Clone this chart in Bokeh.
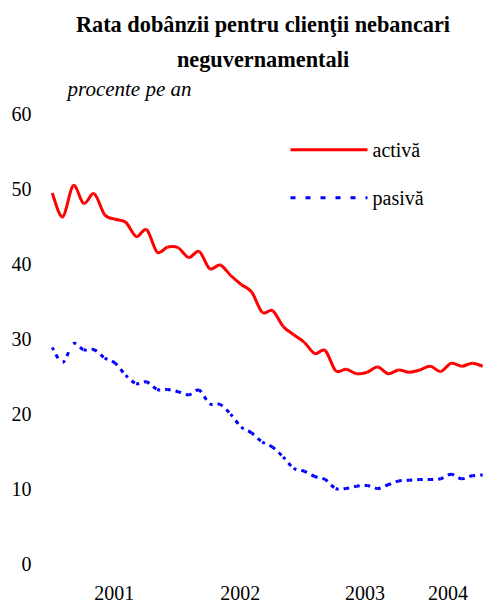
from bokeh.plotting import figure
from bokeh.models import Range1d, FixedTicker, Label
from bokeh.embed import file_html
from bokeh.resources import INLINE

# ---- data (monthly, Jan 2001 .. Jun 2004), % per year ----
months = list(range(42))
activa = [49.4, 46.2, 50.4, 48.0, 49.3, 46.5, 45.9, 45.5, 43.6, 44.5,
          41.5, 42.2, 42.1, 40.8, 41.6, 39.3, 39.8, 38.4, 37.2, 36.2,
          33.5, 33.7, 31.6, 30.5, 29.5, 28.0, 28.4, 25.7, 25.9, 25.3,
          25.5, 26.2, 25.3, 25.8, 25.5, 25.8, 26.3, 25.6, 26.7, 26.3,
          26.7, 26.3]
pasiva = [28.8, 26.8, 29.3, 28.5, 28.5, 27.4, 26.7, 25.1, 24.0, 24.2,
          23.2, 23.2, 22.9, 22.5, 23.1, 21.3, 21.2, 19.9, 18.2, 17.4,
          16.2, 15.5, 14.2, 12.7, 12.3, 11.6, 11.2, 10.0, 10.0, 10.3,
          10.4, 10.0, 10.5, 11.0, 11.1, 11.2, 11.2, 11.3, 11.9, 11.3,
          11.7, 11.8]
years = ["2001", "2002", "2003", "2004"]
year_pos = [5.9, 17.9, 29.8, 37.7]
y_ticks = [0, 10, 20, 30, 40, 50, 60]
series_names = ["activă", "pasivă"]
title_lines = ["Rata dobânzii pentru clienţii nebancari", "neguvernamentali"]
unit_text = "procente pe an"

FONT = "Liberation Serif"
W, H = 485, 604
LEFT = 33
# screen geometry of the value scale
X0_PX, DX_PX = 51.7, 10.5      # pixel of month 0, pixels per month
Y0_PX, DY_PX = 563.0, 7.5      # pixel of value 0, pixels per unit
BASE_FIX = 8.0                 # label baseline correction (px)


def xd(px):
    return (px - X0_PX) / DX_PX


def yd(py):
    return (Y0_PX - py) / DY_PX


def yb(baseline_px):
    """data y for a Label whose alphabetic baseline should land at baseline_px"""
    return yd(baseline_px - BASE_FIX)


def smooth_segments(xs, ys):
    """Catmull-Rom control points -> cubic Bezier segments (smoothed line)."""
    n = len(xs)
    out = dict(x0=[], y0=[], x1=[], y1=[], cx0=[], cy0=[], cx1=[], cy1=[])
    for i in range(n - 1):
        xa, ya = (xs[i - 1], ys[i - 1]) if i > 0 else (xs[i], ys[i])
        xz, yz = (xs[i + 2], ys[i + 2]) if i + 2 < n else (xs[i + 1], ys[i + 1])
        out["x0"].append(xs[i]); out["y0"].append(ys[i])
        out["x1"].append(xs[i + 1]); out["y1"].append(ys[i + 1])
        out["cx0"].append(xs[i] + (xs[i + 1] - xa) / 6.0)
        out["cy0"].append(ys[i] + (ys[i + 1] - ya) / 6.0)
        out["cx1"].append(xs[i + 1] - (xz - xs[i]) / 6.0)
        out["cy1"].append(ys[i + 1] - (yz - ys[i]) / 6.0)
    return out


p = figure(width=W, height=H, output_backend="svg", toolbar_location=None,
           x_range=Range1d(xd(LEFT), xd(W)), y_range=Range1d(yd(H), yd(0)),
           min_border_left=LEFT, min_border_right=0, min_border_top=0,
           min_border_bottom=0)
p.outline_line_color = None
p.xgrid.visible = False
p.ygrid.visible = False
p.background_fill_color = "white"
p.border_fill_color = "white"

red = smooth_segments(months, activa)
blue = smooth_segments(months, pasiva)
p.bezier(line_color="#FF0000", line_width=3, **red)
p.bezier(line_color="#0000FF", line_width=3, line_dash="3 5 4 30", **blue)

# legend (drawn manually)
p.segment(x0=[xd(290)], y0=[yd(149.3)], x1=[xd(367)], y1=[yd(149.3)],
          line_color="#FF0000", line_width=3)
p.segment(x0=[xd(290)], y0=[yd(197.3)], x1=[xd(367)], y1=[yd(197.3)],
          line_color="#0000FF", line_width=3, line_dash="5 10")
for name, base in zip(series_names, [157.0, 205.0]):
    p.add_layout(Label(x=xd(372), y=yb(base), text=name, text_align="left",
                       text_baseline="alphabetic", text_font=FONT,
                       text_font_size="20px", text_color="black"))

# axes
p.xaxis.visible = False
yax = p.yaxis[0]
yax.ticker = FixedTicker(ticks=y_ticks)
yax.axis_line_color = None
yax.major_tick_line_color = None
yax.minor_tick_line_color = None
yax.major_tick_out = 0
yax.major_tick_in = 0
yax.major_label_standoff = 2
yax.major_label_text_font = FONT
yax.major_label_text_font_size = "20px"
yax.major_label_text_color = "black"

# x category labels (years)
for yr, pos in zip(years, year_pos):
    p.add_layout(Label(x=pos, y=yb(600.0), text=yr, text_align="center",
                       text_baseline="alphabetic", text_font=FONT,
                       text_font_size="20px", text_color="black"))

# titles and unit note
p.add_layout(Label(x=xd(262.5), y=yb(32.3), text=title_lines[0], text_align="center",
                   text_baseline="alphabetic", text_font=FONT, text_font_style="bold",
                   text_font_size="22.3px", text_color="black"))
p.add_layout(Label(x=xd(262.5), y=yb(66.7), text=title_lines[1], text_align="center",
                   text_baseline="alphabetic", text_font=FONT, text_font_style="bold",
                   text_font_size="22.3px", text_color="black"))
p.add_layout(Label(x=xd(67), y=yb(96.7), text=unit_text, text_align="left",
                   text_baseline="alphabetic", text_font=FONT, text_font_style="italic",
                   text_font_size="21px", text_color="black"))

open("out.html", "w").write(file_html(p, INLINE))
